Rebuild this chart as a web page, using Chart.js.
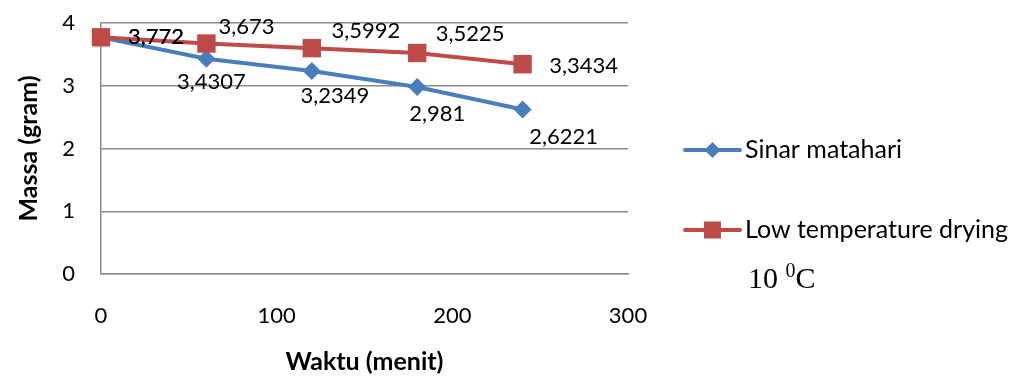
<!DOCTYPE html>
<html>
<head>
<meta charset="utf-8">
<script src="https://cdn.jsdelivr.net/npm/chart.js@4.4.1/dist/chart.umd.min.js"></script>
<style>
  html, body { margin: 0; padding: 0; background: #fff; }
  canvas { display: block; }
</style>
</head>
<body>
<canvas id="massChart" width="1023" height="383"></canvas>
<script>
// Waktu pengeringan (menit) dan massa sampel (gram)
const waktu = [0, 60, 120, 180, 240];
const sinarMatahari = [3.772, 3.4307, 3.2349, 2.981, 2.6221];
const lowTemp = [3.772, 3.673, 3.5992, 3.5225, 3.3434];
const xTicks = [0, 100, 200, 300];
const yTicks = [0, 1, 2, 3, 4];

const BLUE = '#4A7EBB';
const RED = '#BE4B48';
const FONT = 'Lato, "Open Sans", sans-serif';

// label offsets (px) from each point, per dataset
const labelOffsets = [
    [[55, 0], [5, 23], [23, 25], [20, 27], [41, 27]],
    [[55, 0], [40, -17], [54, -17], [53, -19], [61, 2]]
];

const fmt = v => String(v).replace('.', ',');

const pointLabels = {
    id: 'pointLabels',
    afterDatasetsDraw(chart) {
        const ctx = chart.ctx;
        ctx.save();
        ctx.font = '22px ' + FONT;
        ctx.fillStyle = '#000';
        ctx.textAlign = 'center';
        ctx.textBaseline = 'middle';
        chart.data.datasets.forEach((ds, di) => {
            const meta = chart.getDatasetMeta(di);
            meta.data.forEach((pt, i) => {
                const off = labelOffsets[di][i];
                ctx.fillText(fmt(ds.data[i].y), pt.x + off[0], pt.y + off[1]);
            });
        });
        ctx.restore();
    }
};

const sideLegend = {
    id: 'sideLegend',
    afterDraw(chart) {
        const ctx = chart.ctx;
        const x0 = 685, x1 = 740, tx = 745;
        const rows = [150, 230];
        ctx.save();
        chart.data.datasets.forEach((ds, di) => {
            const y = rows[di];
            ctx.strokeStyle = ds.borderColor;
            ctx.lineWidth = 4;
            ctx.lineCap = 'round';
            ctx.beginPath();
            ctx.moveTo(x0, y);
            ctx.lineTo(x1, y);
            ctx.stroke();
            ctx.fillStyle = ds.borderColor;
            Chart.helpers.drawPoint(ctx, {
                pointStyle: ds.pointStyle,
                radius: di === 0 ? 8 : 12,
                borderWidth: 0
            }, (x0 + x1) / 2, y);
            ctx.fillStyle = '#000';
            ctx.font = '25px ' + FONT;
            ctx.textAlign = 'left';
            ctx.textBaseline = 'middle';
            ctx.fillText(ds.label, tx, y);
        });
        // suhu pengeringan di bawah legenda
        ctx.textBaseline = 'alphabetic';
        ctx.font = '30px "Liberation Serif", serif';
        let x = 748;
        const base = 288;
        ctx.fillText('10 ', x, base);
        x += ctx.measureText('10 ').width;
        ctx.font = '20px "Liberation Serif", serif';
        ctx.fillText('0', x, base - 11);
        x += ctx.measureText('0').width;
        ctx.font = '30px "Liberation Serif", serif';
        ctx.fillText('C', x, base);
        ctx.restore();
    }
};

const ctx = document.getElementById('massChart').getContext('2d');
const massChart = new Chart(ctx, {
    type: 'line',
    data: {
        datasets: [{
            label: 'Sinar matahari',
            data: waktu.map((t, i) => ({ x: t, y: sinarMatahari[i] })),
            borderColor: BLUE,
            backgroundColor: BLUE,
            borderWidth: 4,
            pointStyle: 'rectRot',
            pointRadius: 9,
            pointBorderWidth: 0,
            clip: false,
            order: 1
        }, {
            label: 'Low temperature drying',
            data: waktu.map((t, i) => ({ x: t, y: lowTemp[i] })),
            borderColor: RED,
            backgroundColor: RED,
            borderWidth: 4,
            pointStyle: 'rect',
            pointRadius: 13,
            pointBorderWidth: 0,
            clip: false,
            order: 0
        }]
    },
    options: {
        responsive: false,
        animation: false,
        events: [],
        layout: { padding: { left: 14, top: 23, right: 395, bottom: 6 } },
        plugins: { legend: { display: false }, tooltip: { enabled: false } },
        scales: {
            x: {
                type: 'linear',
                min: 0,
                max: 300,
                afterBuildTicks: s => { s.ticks = xTicks.map(v => ({ value: v })); },
                afterFit: s => { s.height = 103; s.paddingLeft = 0; s.paddingRight = 0; },
                grid: { display: false, drawTicks: false },
                border: { display: true, color: '#8a8a8a', width: 1.5 },
                ticks: { color: '#000', font: { family: FONT, size: 22 }, padding: 29, maxRotation: 0 },
                title: {
                    display: true,
                    text: 'Waktu (menit)',
                    color: '#000',
                    font: { family: FONT, size: 25, weight: 'bold' },
                    padding: 0
                }
            },
            y: {
                min: 0,
                max: 4,
                afterBuildTicks: s => { s.ticks = yTicks.map(v => ({ value: v })); },
                afterFit: s => { s.width = 87; s.paddingTop = 0; s.paddingBottom = 0; },
                grid: { color: '#8a8a8a', lineWidth: 1.5, drawTicks: false },
                border: { display: true, color: '#8a8a8a', width: 1.5 },
                ticks: { color: '#000', font: { family: FONT, size: 22 }, padding: 26 },
                title: {
                    display: true,
                    text: 'Massa (gram)',
                    color: '#000',
                    font: { family: FONT, size: 25, weight: 'bold' },
                    padding: 0
                }
            }
        }
    },
    plugins: [pointLabels, sideLegend]
});
</script>
</body>
</html>
